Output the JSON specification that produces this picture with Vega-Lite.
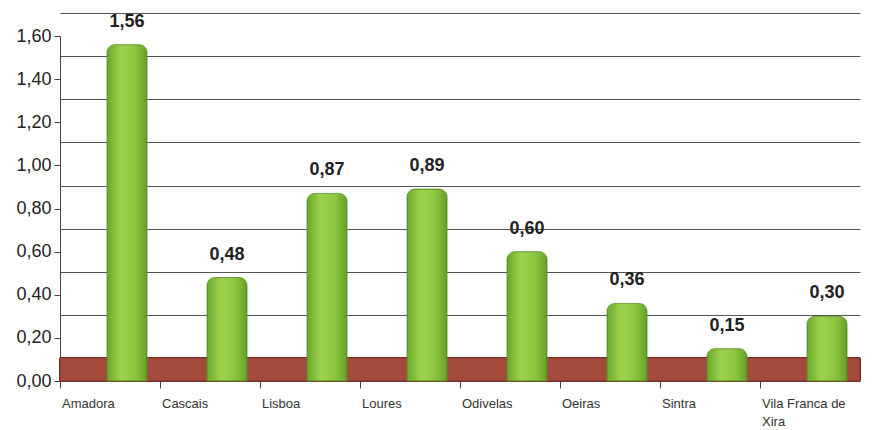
{
  "$schema": "https://vega.github.io/schema/vega-lite/v6.json",
  "autosize": "none",
  "width": 800,
  "height": 345,
  "padding": {"left": 60, "top": 36, "right": 20, "bottom": 49},
  "background": "white",
  "config": {
    "locale": {"number": {"decimal": ",", "thousands": ".", "grouping": [3], "currency": ["", " €"]}},
    "font": "Liberation Sans",
    "view": {"stroke": null}
  },
  "data": {
    "values": [
      {"concelho": "Amadora", "valor": 1.56},
      {"concelho": "Cascais", "valor": 0.48},
      {"concelho": "Lisboa", "valor": 0.87},
      {"concelho": "Loures", "valor": 0.89},
      {"concelho": "Odivelas", "valor": 0.60},
      {"concelho": "Oeiras", "valor": 0.36},
      {"concelho": "Sintra", "valor": 0.15},
      {"concelho": "Vila Franca de Xira", "valor": 0.30}
    ]
  },
  "encoding": {
    "x": {
      "field": "concelho",
      "type": "nominal",
      "sort": null,
      "scale": {"paddingInner": 0, "paddingOuter": 0},
      "axis": {
        "title": null,
        "bandPosition": 0,
        "labelAngle": 0,
        "labelAlign": "left",
        "labelBaseline": "top",
        "labelPadding": 9,
        "labelOffset": -48,
        "labelFontSize": 13,
        "labelLimit": 120,
        "labelColor": "#333333",
        "labelLineHeight": 18,
        "labelExpr": "datum.label == 'Vila Franca de Xira' ? ['Vila Franca de', 'Xira'] : datum.label",
        "tickSize": 7,
        "tickColor": "#444444",
        "domainColor": "#444444",
        "grid": false
      }
    }
  },
  "resolve": {"axis": {"y": "independent"}},
  "layer": [
    {
      "mark": {"type": "rect", "color": "#a44a3c", "stroke": "#7a3228", "strokeWidth": 1},
      "encoding": {
        "x": {"value": 0},
        "x2": {"value": 800},
        "y": {"datum": 0, "type": "quantitative", "axis": {
            "orient": "left",
            "title": null,
            "values": [0.2, 0.4, 0.6, 0.8, 1.0, 1.2, 1.4, 1.6],
            "labels": false,
            "ticks": false,
            "domain": false,
            "grid": true,
            "gridColor": "#555555",
            "gridWidth": 1,
            "tickOffset": -23
          }},
        "y2": {"datum": 0.107}
      }
    },
    {
      "mark": {
        "type": "bar",
        "width": 40,
        "xOffset": 17,
        "cornerRadiusTopLeft": 8,
        "cornerRadiusTopRight": 8,
        "stroke": "#5a8f22",
        "strokeWidth": 0.8,
        "color": {
          "gradient": "linear",
          "x1": 0, "x2": 1, "y1": 0, "y2": 0,
          "stops": [
            {"offset": 0, "color": "#6aa82c"},
            {"offset": 0.35, "color": "#9ed24e"},
            {"offset": 0.7, "color": "#8cc63f"},
            {"offset": 1, "color": "#64a028"}
          ]
        }
      },
      "encoding": {
        "y": {
          "field": "valor",
          "type": "quantitative",
          "scale": {"domain": [0, 1.6], "nice": false},
          "axis": {
            "orient": "left",
            "title": null,
            "values": [0, 0.2, 0.4, 0.6, 0.8, 1.0, 1.2, 1.4, 1.6],
            "format": ".2f",
            "labelFontSize": 18,
            "labelColor": "#222222",
            "labelPadding": 3,
            "tickSize": 6,
            "tickColor": "#444444",
            "domainColor": "#444444",
            "grid": false
          }
        }
      }
    },
    {
      "mark": {
        "type": "text",
        "xOffset": 17,
        "dy": -14,
        "baseline": "bottom",
        "fontSize": 18,
        "fontWeight": "bold",
        "color": "#222222"
      },
      "encoding": {
        "y": {"field": "valor", "type": "quantitative", "axis": null},
        "text": {"field": "valor", "type": "quantitative", "format": ".2f"}
      }
    }
  ]
}
